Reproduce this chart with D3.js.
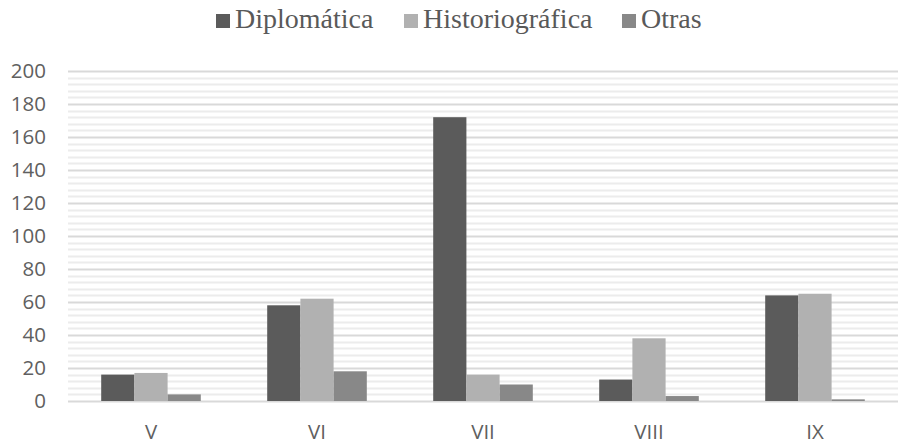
<!DOCTYPE html>
<html>
<head>
<meta charset="utf-8">
<script src="https://cdn.jsdelivr.net/npm/d3@7"></script>
<style>
  body { margin: 0; background: #fff; }
</style>
</head>
<body>
<div id="chart"></div>
<script>
// data
let categories = ["V", "VI", "VII", "VIII", "IX"]
let seriesNames = ["Diplomática", "Historiográfica", "Otras"]
let diplomatica = [16, 58, 172, 13, 64]
let historiografica = [17, 62, 16, 38, 65]
let otras = [4, 18, 10, 3, 1]
let yTicks = [0, 20, 40, 60, 80, 100, 120, 140, 160, 180, 200]

let seriesValues = [diplomatica, historiografica, otras]
let colors = ["#5b5b5b", "#b1b1b1", "#888888"]

let width = 898, height = 445
let margin = {top: 71, right: 0, bottom: 44, left: 68}

let svg = d3.select("#chart")
    .append("svg")
        .attr("width", width)
        .attr("height", height)

let x = d3.scaleBand()
    .domain(categories)
    .range([margin.left, width - margin.right])
    .paddingInner(0.4)
    .paddingOuter(0.2)

let xSub = d3.scaleBand()
    .domain(seriesNames)
    .range([0, x.bandwidth()])

let y = d3.scaleLinear()
    .domain([0, 200])
    .range([height - margin.bottom, margin.top])

// minor gridlines, every 4
let grid = svg.append("g")
grid.selectAll("line.minor")
    .data(d3.range(4, 200, 4).filter(d => d % 20 != 0))
    .enter()
    .append("line")
        .attr("class", "minor")
        .attr("x1", margin.left)
        .attr("x2", width - margin.right)
        .attr("y1", d => Math.round(y(d)) + 0.5)
        .attr("y2", d => Math.round(y(d)) + 0.5)
        .attr("stroke", "#ececec")
        .attr("stroke-width", 2)

// major gridlines
grid.selectAll("line.major")
    .data(yTicks)
    .enter()
    .append("line")
        .attr("class", "major")
        .attr("x1", margin.left)
        .attr("x2", width - margin.right)
        .attr("y1", d => Math.round(y(d)) + 0.5)
        .attr("y2", d => Math.round(y(d)) + 0.5)
        .attr("stroke", "#d9d9d9")
        .attr("stroke-width", 2)

// y axis labels
let yAxis = svg.append("g")
    .attr("transform", `translate(${margin.left - 22}, 0)`)
    .call(d3.axisLeft(y).tickValues(yTicks).tickSize(0).tickPadding(0))
yAxis.select(".domain").remove()
yAxis.selectAll("text")
    .style("font-family", "'Open Sans', sans-serif")
    .style("font-size", "20.5px")
    .attr("fill", "#606060")

// x axis labels
let xAxis = svg.append("g")
    .attr("transform", `translate(0, ${height - margin.bottom})`)
    .call(d3.axisBottom(x).tickSize(0).tickPadding(23))
xAxis.select(".domain").remove()
xAxis.selectAll("text")
    .style("font-family", "'Open Sans', sans-serif")
    .style("font-size", "20.5px")
    .attr("fill", "#606060")

// bars
let groups = svg.append("g")
    .selectAll("g")
    .data(categories)
    .enter()
    .append("g")
        .attr("transform", d => `translate(${x(d)}, 0)`)

groups.selectAll("rect")
    .data((d, i) => seriesNames.map((s, j) => ({key: s, value: seriesValues[j][i], color: colors[j]})))
    .enter()
    .append("rect")
        .attr("x", d => xSub(d.key))
        .attr("y", d => y(d.value))
        .attr("width", xSub.bandwidth())
        .attr("height", d => y(0) - y(d.value))
        .attr("fill", d => d.color)

// legend
let legendX = [216, 404, 622]
let leg = svg.append("g")
    .attr("class", "legend")

leg.selectAll("rect")
    .data(seriesNames)
    .enter()
    .append("rect")
        .attr("x", (d, i) => legendX[i])
        .attr("y", 14)
        .attr("width", 14)
        .attr("height", 14)
        .attr("fill", (d, i) => colors[i])

leg.selectAll("text")
    .data(seriesNames)
    .enter()
    .append("text")
        .text(d => d)
        .attr("x", (d, i) => legendX[i] + 19)
        .attr("y", 28)
        .style("font-family", "'Liberation Serif', 'Times New Roman', serif")
        .style("font-size", "28px")
        .attr("fill", "#595959")
</script>
</body>
</html>
